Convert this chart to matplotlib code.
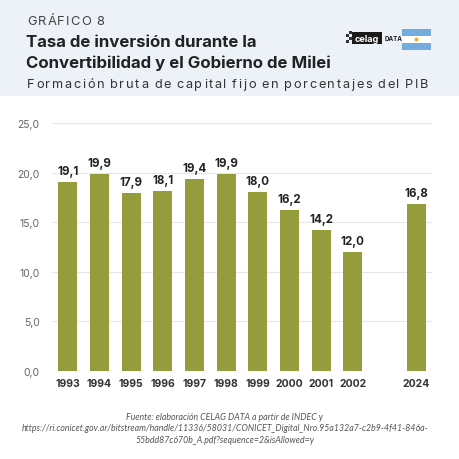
import matplotlib
matplotlib.use("Agg")
import matplotlib.pyplot as plt
from matplotlib.patches import Rectangle, Circle

# data
years = ["1993", "1994", "1995", "1996", "1997", "1998", "1999", "2000", "2001", "2002", "2024"]
values = [19.1, 19.9, 17.9, 18.1, 19.4, 19.9, 18.0, 16.2, 14.2, 12.0, 16.8]
positions = [0, 1, 2, 3, 4, 5, 6, 7, 8, 9, 11]
yticks = [0, 5, 10, 15, 20, 25]

BAR = "#959c3b"
DARK = "#222222"
HEAD_BG = "#edf2f9"

W = H = 460
fig = plt.figure(figsize=(4.6, 4.6), dpi=100)
fig.patch.set_facecolor("white")


def px(x, y):
    return x / W, 1 - y / H


def spaced_text(x, y, s, tracking, **kw):
    # draw text char by char to imitate letter spacing
    r = fig.canvas.get_renderer()
    cur = x
    for ch in s:
        t = fig.text(*px(cur, y), ch, va="baseline", ha="left", **kw)
        w = t.get_window_extent(renderer=r).width
        if ch == " ":
            w = t.get_fontsize() * 0.28
        cur += w + tracking


# header band
fig.patches.append(Rectangle((0, 1 - 97 / H), 1, 97 / H, transform=fig.transFigure,
                             facecolor=HEAD_BG, edgecolor="none", zorder=0))

spaced_text(27, 25, "GRÁFICO 8", 1.2, fontsize=9.3, color="#444444", family="Inter")
fig.text(*px(26, 47), "Tasa de inversión durante la", fontsize=12.1, fontweight="bold",
         color=DARK, family="Inter", va="baseline")
fig.text(*px(26, 68), "Convertibilidad y el Gobierno de Milei", fontsize=12.1, fontweight="bold",
         color=DARK, family="Inter", va="baseline")
spaced_text(27, 88, "Formación bruta de capital fijo en porcentajes del PIB", 1.66,
            fontsize=9.2, color="#333333", family="Inter")

# logo
fig.patches.append(Rectangle(px(352, 45), 30 / W, 12 / H, transform=fig.transFigure,
                             facecolor="#1a1a1a", edgecolor="none"))
for (sx, sy) in [(346, 44), (349, 41), (346, 38), (349, 35)]:
    fig.patches.append(Rectangle(px(sx, sy), 3 / W, 3 / H, transform=fig.transFigure,
                                 facecolor="#333333", edgecolor="none"))
fig.text(*px(367, 39), "celag", fontsize=6.5, fontweight="bold", color="white",
         ha="center", va="center", family="Inter")
fig.text(*px(385, 39), "DATA", fontsize=4.5, fontweight="bold", color="#222222",
         ha="left", va="center", family="Inter")

# flag
fx, fy, fw, fh = 402, 30, 29, 21
for i, c in enumerate(["#74acdf", "white", "#74acdf"]):
    fig.patches.append(Rectangle(px(fx, fy + fh * (i + 1) / 3), fw / W, fh / 3 / H,
                                 transform=fig.transFigure, facecolor=c, edgecolor="none"))
fig.patches.append(Circle(px(fx + fw / 2, fy + fh / 2), 2 / W, transform=fig.transFigure,
                          facecolor="#f6b40e", edgecolor="none"))

# chart
ax = fig.add_axes([52 / W, 1 - 372 / H, 380 / W, 248 / H])
ax.bar(positions, values, width=0.6, color=BAR, zorder=3)
for p, v in zip(positions, values):
    ax.text(p, v + 0.5, f"{v:.1f}".replace(".", ","), ha="center", va="bottom",
            fontsize=8.3, fontweight="bold", color=DARK, family="Inter")

ax.set_xlim(-0.5, 11.5)
ax.set_ylim(0, 25)
ax.set_yticks(yticks)
ax.set_yticklabels([f"{t:.1f}".replace(".", ",") for t in yticks], fontsize=7.5,
                   color="#666666", family="Inter")
ax.set_xticks(positions)
ax.set_xticklabels(years, fontsize=7.5, fontweight="bold", color="#333333", family="Inter")
ax.tick_params(axis="both", length=0)
ax.tick_params(axis="y", pad=9)
ax.tick_params(axis="x", pad=5)
ax.grid(axis="y", color="#e6e6e6", linewidth=0.8, zorder=0)
for s in ax.spines.values():
    s.set_visible(False)

# source
src = ("Fuente: elaboración CELAG DATA a partir de INDEC y\n"
       "https://ri.conicet.gov.ar/bitstream/handle/11336/58031/CONICET_Digital_Nro.95a132a7-c2b9-4f41-846a-\n"
       "55bdd87c670b_A.pdf?sequence=2&isAllowed=y")
fig.text(*px(225, 429), src, fontsize=6.3, style="italic", color="#555555", ha="center",
         va="center", family="Lato", linespacing=1.35)

fig.savefig("out.png", dpi=100)
